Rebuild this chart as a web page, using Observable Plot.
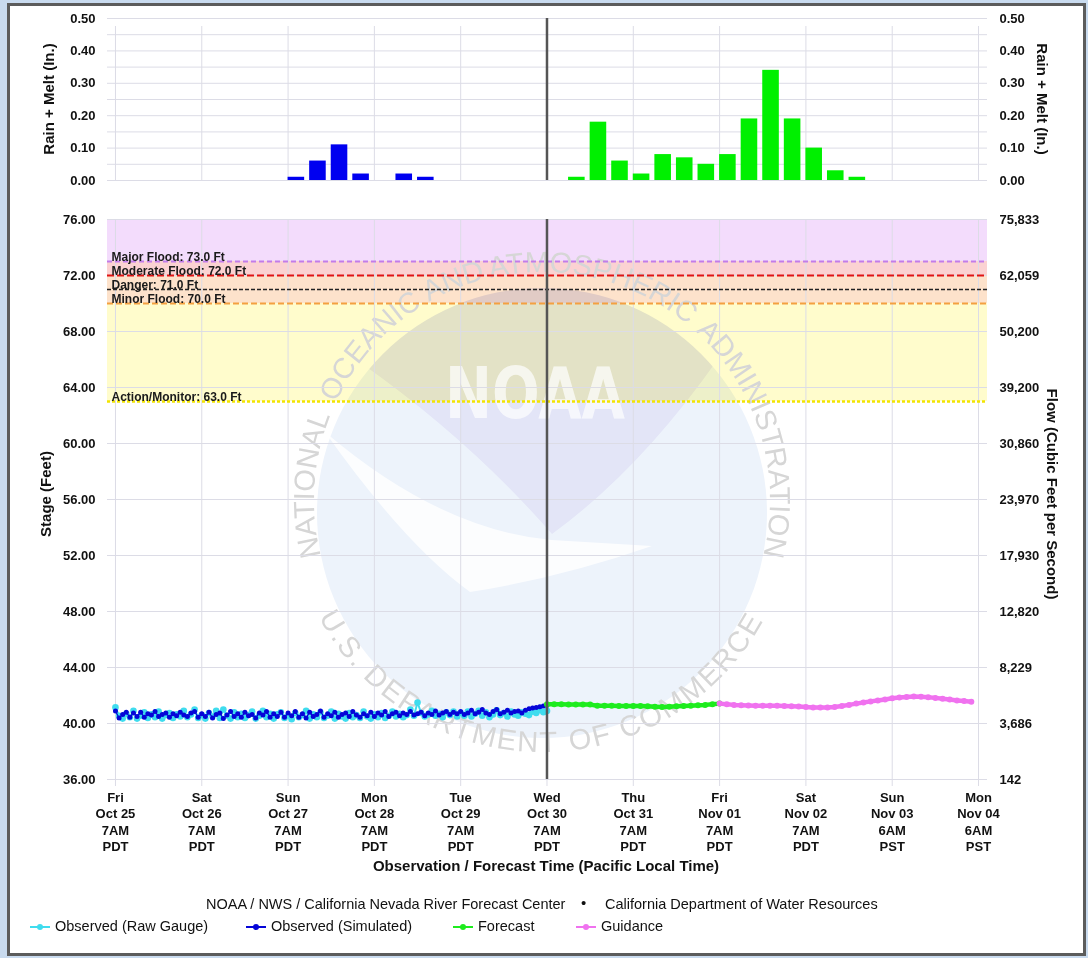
<!DOCTYPE html>
<html><head><meta charset="utf-8">
<script src="https://cdn.jsdelivr.net/npm/d3@7"></script>
<script src="https://cdn.jsdelivr.net/npm/@observablehq/plot@0.6"></script>
<style>
html,body{margin:0;padding:0;}
body{width:1088px;height:958px;position:relative;overflow:hidden;background:#c9dbef;font-family:"Liberation Sans",Arial,Helvetica,sans-serif;color:#111;}
#frame{position:absolute;left:7px;top:3px;width:1079px;height:953px;box-sizing:border-box;border:3px solid #5c5c5c;background:#fff;}
.abs{position:absolute;white-space:nowrap;}
.vt{position:absolute;white-space:nowrap;font-weight:bold;font-size:15px;}
.lg{position:absolute;white-space:nowrap;font-size:14.5px;top:918px;}
.lg svg{position:absolute;left:-26px;top:3px;}
</style></head>
<body>
<div id="frame"></div>
<div id="top" class="abs" style="left:0;top:0"></div>
<div id="bottom" class="abs" style="left:0;top:200px"></div>

<div class="vt" style="left:48px;top:99px;transform:translate(-50%,-50%) rotate(-90deg)">Rain + Melt (In.)</div>
<div class="vt" style="left:1042px;top:99px;transform:translate(-50%,-50%) rotate(90deg)">Rain + Melt (In.)</div>
<div class="vt" style="left:45px;top:494px;transform:translate(-50%,-50%) rotate(-90deg)">Stage (Feet)</div>
<div class="vt" style="left:1052px;top:494px;transform:translate(-50%,-50%) rotate(90deg)">Flow (Cubic Feet per Second)</div>
<div class="abs" style="left:546px;top:857px;transform:translateX(-50%);font-weight:bold;font-size:15px;">Observation / Forecast Time (Pacific Local Time)</div>

<div class="abs" style="left:206px;top:896px;font-size:14.5px;">NOAA / NWS / California Nevada River Forecast Center</div>
<div class="abs" style="left:581px;top:894px;font-size:15px;">&#8226;</div>
<div class="abs" style="left:605px;top:896px;font-size:14.5px;">California Department of Water Resources</div>
<div id="legend"></div>

<script>
// ---------- DATA ----------
const xDomainIso = ["2024-10-25T11:47Z", "2024-11-04T16:30Z"];
const nowIso = "2024-10-30T14:00Z";

const dayTickIso = ["2024-10-25T14:00Z","2024-10-26T14:00Z","2024-10-27T14:00Z","2024-10-28T14:00Z","2024-10-29T14:00Z","2024-10-30T14:00Z","2024-10-31T14:00Z","2024-11-01T14:00Z","2024-11-02T14:00Z","2024-11-03T14:00Z","2024-11-04T14:00Z"];
const dayNames = ["Fri","Sat","Sun","Mon","Tue","Wed","Thu","Fri","Sat","Sun","Mon"];
const dayDates = ["Oct 25","Oct 26","Oct 27","Oct 28","Oct 29","Oct 30","Oct 31","Nov 01","Nov 02","Nov 03","Nov 04"];
const dayHours = ["7AM","7AM","7AM","7AM","7AM","7AM","7AM","7AM","7AM","6AM","6AM"];
const dayZones = ["PDT","PDT","PDT","PDT","PDT","PDT","PDT","PDT","PDT","PST","PST"];

const rainTicks = [0, 0.1, 0.2, 0.3, 0.4, 0.5];
const rainGrid = [0, 0.05, 0.1, 0.15, 0.2, 0.25, 0.3, 0.35, 0.4, 0.45, 0.5];
const rainPeriodHours = 6;
const obsRainStart = ["2024-10-27T14:00Z","2024-10-27T20:00Z","2024-10-28T02:00Z","2024-10-28T08:00Z","2024-10-28T20:00Z","2024-10-29T02:00Z"];
const obsRain = [0.01, 0.06, 0.11, 0.02, 0.02, 0.01];
const fcstRainStart = ["2024-10-30T20:00Z","2024-10-31T02:00Z","2024-10-31T08:00Z","2024-10-31T14:00Z","2024-10-31T20:00Z","2024-11-01T02:00Z","2024-11-01T08:00Z","2024-11-01T14:00Z","2024-11-01T20:00Z","2024-11-02T02:00Z","2024-11-02T08:00Z","2024-11-02T14:00Z","2024-11-02T20:00Z","2024-11-03T02:00Z"];
const fcstRain = [0.01, 0.18, 0.06, 0.02, 0.08, 0.07, 0.05, 0.08, 0.19, 0.34, 0.19, 0.10, 0.03, 0.01];

const stageTicks = [36, 40, 44, 48, 52, 56, 60, 64, 68, 72, 76];
const flowLabels = ["142","3,686","8,229","12,820","17,930","23,970","30,860","39,200","50,200","62,059","75,833"];

const levelNames = ["Major Flood","Moderate Flood","Danger","Minor Flood","Action/Monitor"];
const levelStages = [73, 72, 71, 70, 63];
const bandTops = [76, 73, 72, 70];
const bandBottoms = [73, 72, 70, 63];

// watermark texts
const sealTopWords = ["NATIONAL", "OCEANIC", "AND", "ATMOSPHERIC", "ADMINISTRATION"];
const sealBottomWords = ["U.S.", "DEPARTMENT", "OF", "COMMERCE"];
const sealCenter = "NOAA";

// hourly observations starting Fri Oct 25 7AM PDT
const obsStart = "2024-10-25T14:00Z";
const obsStepHours = 1;
const obsRaw = [
41.15,40.55,40.35,40.7,40.45,40.9,40.35,40.55,40.8,40.4,40.65,40.45,40.85,40.35,40.6,40.75,40.4,40.65,40.5,40.9,40.45,40.65,41.0,40.4,
40.6,40.35,40.75,40.5,40.9,40.4,41.0,40.55,40.35,40.8,40.45,40.7,40.4,40.6,40.85,40.35,40.55,40.9,40.45,40.7,40.35,40.65,40.8,40.4,
40.55,40.3,40.75,40.45,40.6,40.9,40.35,40.65,40.45,40.8,40.4,40.55,40.85,40.35,40.7,40.5,40.35,40.75,40.45,40.6,40.4,40.85,40.5,40.35,
40.65,40.45,40.75,40.4,40.55,40.85,40.5,40.7,40.45,40.6,41.0,40.55,41.5,40.75,40.5,40.65,40.9,40.55,40.7,40.45,40.8,40.6,40.85,40.5,
40.75,40.55,40.85,40.5,40.7,40.9,40.55,40.8,40.45,40.65,40.95,40.6,40.75,40.5,40.85,40.65,40.55,40.8,40.7,40.6,40.85,40.75,40.95,40.8,
40.9];
const obsSim = [
40.9,40.4,40.65,40.8,40.45,40.75,40.5,40.8,40.45,40.7,40.6,40.85,40.5,40.65,40.75,40.45,40.7,40.55,40.8,40.6,40.5,40.75,40.85,40.45,
40.7,40.5,40.8,40.4,40.65,40.75,40.35,40.6,40.85,40.5,40.7,40.45,40.8,40.55,40.65,40.4,40.75,40.6,40.85,40.45,40.7,40.5,40.8,40.45,
40.75,40.55,40.85,40.45,40.7,40.4,40.8,40.5,40.65,40.9,40.45,40.7,40.55,40.8,40.45,40.65,40.75,40.5,40.85,40.6,40.45,40.7,40.55,40.8,
40.5,40.75,40.6,40.85,40.5,40.7,40.8,40.55,40.75,40.65,40.85,40.6,40.7,40.8,40.55,40.75,40.65,40.9,40.6,40.75,40.85,40.65,40.8,40.7,
40.85,40.65,40.75,40.95,40.7,40.8,41.0,40.75,40.65,40.85,41.0,40.7,40.8,40.95,40.75,40.85,40.9,40.75,40.95,41.05,41.1,41.15,41.2,41.25,
41.3];

// 2-hourly forecast from Wed Oct 30 7AM PDT
const fcstStart = "2024-10-30T14:00Z";
const fcstStepHours = 2;
const fcstStage = [41.37,41.37,41.37,41.36,41.36,41.36,41.35,41.27,41.26,41.26,41.25,41.25,41.25,41.25,41.24,41.2,41.17,41.2,41.23,41.25,41.27,41.3,41.33,41.38,41.42];

// 2-hourly guidance from Fri Nov 01 7AM PDT
const guideStart = "2024-11-01T14:00Z";
const guideStepHours = 2;
const guideStage = [41.42,41.38,41.33,41.3,41.28,41.27,41.27,41.26,41.26,41.25,41.24,41.22,41.18,41.15,41.15,41.15,41.18,41.25,41.33,41.42,41.5,41.58,41.65,41.72,41.8,41.86,41.9,41.92,41.91,41.88,41.83,41.77,41.71,41.65,41.6,41.55];

// ---------- STYLES ----------
const C = {
  grid: "#dcdce6", axisText: "#111", now: "#555",
  raw: "#3fdcee", sim: "#0505d8", fcst: "#1eec1e", guide: "#f072ef",
  obsBar: "#0000f0", fcstBar: "#00f000"
};
const bandColors = ["#f3dcfc", "#fbd2d2", "#fde2cb", "#fffccc"];
const levelColors = ["#c27ce9", "#e01515", "#222222", "#f4a040", "#f2e400"];
const levelDash = ["5,3", "7,3", "4,2", "6,3", "3,2"];
const levelWidth = [2, 2.2, 1.5, 2, 2.4];
const FONT = '"Liberation Sans", Arial, Helvetica, sans-serif';
// where each seal word is centred along its arc (percent of arc length)
const sealTopOffsets = [10.1, 27.7, 39.8, 56.2, 83.9];
const sealBottomOffsets = [7.0, 33.8, 59.0, 81.5];

// ---------- BUILD ----------
const HOUR = 3600e3;
const xDomain = xDomainIso.map(d => new Date(d));
const nowTime = new Date(nowIso);
const dayTicks = dayTickIso.map(d => new Date(d));
const dayLabel = new Map(dayTicks.map((d, i) => [+d, `${dayNames[i]}\n${dayDates[i]}\n${dayHours[i]}\n${dayZones[i]}`]));
const series = (start, step, vals) => vals.map((v, i) => ({t: new Date(+new Date(start) + i * step * HOUR), v}));
const bars = (starts, vals) => starts.map((s, i) => ({t0: new Date(s), t1: new Date(+new Date(s) + rainPeriodHours * HOUR), v: vals[i]}));

const rawData = series(obsStart, obsStepHours, obsRaw);
const simData = series(obsStart, obsStepHours, obsSim);
const fcstData = series(fcstStart, fcstStepHours, fcstStage);
const guideData = series(guideStart, guideStepHours, guideStage);
const obsBars = bars(obsRainStart, obsRain);
const fcstBars = bars(fcstRainStart, fcstRain);
const bands = bandTops.map((t, i) => ({hi: t, lo: bandBottoms[i], c: bandColors[i]}));
const levels = levelNames.map((n, i) => ({name: n, stage: levelStages[i]}));

const style = {fontFamily: FONT, fontSize: "13px", color: C.axisText, background: "none", overflow: "visible"};
const axisText = {fontWeight: "bold", fontSize: 13, fill: C.axisText};

const topPlot = Plot.plot({
  width: 1088, height: 200,
  marginLeft: 107, marginRight: 101, marginTop: 18, marginBottom: 20,
  style,
  x: {type: "utc", domain: xDomain, axis: null},
  y: {domain: [0, 0.5]},
  marks: [
    Plot.ruleY(rainGrid, {stroke: C.grid, strokeWidth: 1}),
    Plot.ruleX(dayTicks, {y1: 0, y2: 0.5, insetBottom: -8, stroke: C.grid, strokeWidth: 1}),
    Plot.rect(obsBars, {x1: "t0", x2: "t1", y1: () => 0, y2: "v", fill: C.obsBar, insetRight: 5}),
    Plot.rect(fcstBars, {x1: "t0", x2: "t1", y1: () => 0, y2: "v", fill: C.fcstBar, insetRight: 5}),
    Plot.ruleX([nowTime], {y1: 0, y2: 0.5, stroke: C.now, strokeWidth: 2.5}),
    Plot.axisY(rainTicks, {anchor: "left", tickSize: 0, tickPadding: 12, tickFormat: d3.format(".2f"), label: null, ...axisText}),
    Plot.axisY(rainTicks, {anchor: "right", tickSize: 0, tickPadding: 12, tickFormat: d3.format(".2f"), label: null, ...axisText})
  ]
});
document.getElementById("top").append(topPlot);

const flowMap = new Map(stageTicks.map((s, i) => [s, flowLabels[i]]));
const bottomPlot = Plot.plot({
  width: 1088, height: 680,
  marginLeft: 107, marginRight: 101, marginTop: 19, marginBottom: 101,
  style,
  x: {type: "utc", domain: xDomain},
  y: {domain: [36, 76]},
  color: {type: "identity"},
  marks: [
    Plot.rect(bands, {x1: () => xDomain[0], x2: () => xDomain[1], y1: "lo", y2: "hi", fill: "c"}),
    Plot.ruleY(stageTicks, {stroke: C.grid, strokeWidth: 1}),
    Plot.ruleX(dayTicks, {stroke: C.grid, strokeWidth: 1}),
    ...levels.map((l, i) => Plot.ruleY([l.stage], {stroke: levelColors[i], strokeDasharray: levelDash[i], strokeWidth: levelWidth[i]})),
    Plot.text(levels, {x: () => xDomain[0], y: "stage", text: d => `${d.name}: ${d.stage.toFixed(1)} Ft`, textAnchor: "start", lineAnchor: "bottom", dx: 4, dy: -1, fontWeight: "bold", fontSize: 12, fill: "#1a1a1a"}),
    Plot.line(rawData, {x: "t", y: "v", stroke: C.raw, strokeWidth: 2}),
    Plot.dot(rawData, {x: "t", y: "v", r: 3.3, fill: C.raw, stroke: "none"}),
    Plot.line(simData, {x: "t", y: "v", stroke: C.sim, strokeWidth: 1.2}),
    Plot.dot(simData, {x: "t", y: "v", r: 2.5, fill: C.sim, stroke: "none"}),
    Plot.line(fcstData, {x: "t", y: "v", stroke: C.fcst, strokeWidth: 4.5}),
    Plot.dot(fcstData, {x: "t", y: "v", r: 3, fill: C.fcst, stroke: "none"}),
    Plot.line(guideData, {x: "t", y: "v", stroke: C.guide, strokeWidth: 4.5}),
    Plot.dot(guideData, {x: "t", y: "v", r: 3, fill: C.guide, stroke: "none"}),
    Plot.ruleX([nowTime], {stroke: C.now, strokeWidth: 2.5}),
    Plot.axisY(stageTicks, {anchor: "left", tickSize: 0, tickPadding: 12, tickFormat: d3.format(".2f"), label: null, ...axisText}),
    Plot.axisY(stageTicks, {anchor: "right", tickSize: 0, tickPadding: 12, tickFormat: d => flowMap.get(d), label: null, ...axisText}),
    Plot.axisX(dayTicks, {tickSize: 7, tickPadding: 4, stroke: C.grid, tickFormat: d => dayLabel.get(+d), label: null, lineHeight: 1.25, ...axisText})
  ]
});
document.getElementById("bottom").append(bottomPlot);

// ---------- faint NOAA watermark, placed just above the flood bands ----------
(function () {
  const NS = "http://www.w3.org/2000/svg";
  const bandG = bottomPlot.querySelector('g[aria-label="rect"]');
  const g = document.createElementNS(NS, "g");
  g.setAttribute("transform", "translate(0,-200)");
  g.setAttribute("pointer-events", "none");
  const word = (pathId, w, off, extra) =>
    `<text font-family="Liberation Sans, Arial, sans-serif" font-size="29" fill="#d6d6d6" text-anchor="middle" ${extra}><textPath href="#${pathId}" startOffset="${off}%">${w}</textPath></text>`;
  g.innerHTML = `
    <defs>
      <path id="wmTop" d="M 325.2 570.5 A 228 228 0 1 1 758.8 570.5"/>
      <path id="wmBot" d="M 315.5 610.5 A 252 252 0 0 0 768.5 610.5"/>
      <clipPath id="wmClip"><circle cx="542" cy="513" r="225"/></clipPath>
    </defs>
    <circle cx="542" cy="513" r="225" fill="#edf3fb" style="mix-blend-mode:multiply"/>
    <path clip-path="url(#wmClip)" d="M 300 280 L 790 280 L 790 362 L 718 359 Q 640 470 552 534 Q 470 440 361 363 L 300 365 Z" fill="#f5f1fb" style="mix-blend-mode:multiply"/>
    <path d="M 325 432 Q 440 530 552 540 L 652 546 Q 560 578 470 592 Q 405 545 325 432 Z" fill="#ffffff" opacity="0.8"/>
    <text x="535" y="418" text-anchor="middle" font-family="DejaVu Sans" font-weight="bold" font-size="72" textLength="180" lengthAdjust="spacingAndGlyphs" fill="#ffffff" opacity="0.7">${sealCenter}</text>
    ${sealTopWords.map((w, i) => word("wmTop", w, sealTopOffsets[i], "")).join("")}
    ${sealBottomWords.map((w, i) => word("wmBot", w, sealBottomOffsets[i], 'letter-spacing="2"')).join("")}`;
  if (bandG) bandG.after(g); else bottomPlot.insertBefore(g, bottomPlot.firstChild.nextSibling);
})();

// ---------- legend ----------
const legendNames = ["Observed (Raw Gauge)", "Observed (Simulated)", "Forecast", "Guidance"];
const legendColors = [C.raw, C.sim, C.fcst, C.guide];
const legendLeft = [55, 271, 478, 601];
const legend = document.getElementById("legend");
legendNames.forEach((n, i) => {
  const d = document.createElement("div");
  d.className = "lg";
  d.style.left = legendLeft[i] + "px";
  d.innerHTML = `<svg width="22" height="12"><line x1="1" y1="6" x2="21" y2="6" stroke="${legendColors[i]}" stroke-width="2"/><circle cx="11" cy="6" r="3" fill="${legendColors[i]}"/></svg>${n}`;
  legend.append(d);
});
</script>
</body></html>
